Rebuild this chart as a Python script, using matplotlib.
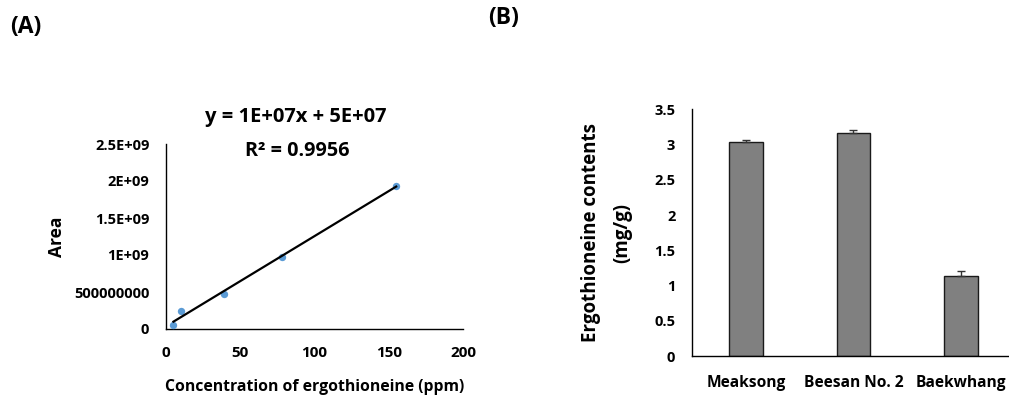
import numpy as np
import matplotlib
matplotlib.use("Agg")
import matplotlib.pyplot as plt

plt.rcParams['font.family'] = ['Open Sans', 'DejaVu Sans']

# Panel A data (calibration curve)
conc_ppm = [5, 10, 39, 78, 155]
area = [5.4e7, 2.43e8, 4.77e8, 9.73e8, 1.937e9]
a_yticks = [0, 5e8, 1e9, 1.5e9, 2e9, 2.5e9]
a_yticklabels = ['0', '500000000', '1E+09', '1.5E+09', '2E+09', '2.5E+09']
a_xticks = [0, 50, 100, 150, 200]
eq_text = "y = 1E+07x + 5E+07"
r2_text = "R² = 0.9956"

# Panel B data (contents)
cultivars = ['Meaksong', 'Beesan No. 2', 'Baekwhang']
contents = [3.04, 3.16, 1.13]
contents_err = [0.03, 0.04, 0.075]
b_yticks = [0, 0.5, 1, 1.5, 2, 2.5, 3, 3.5]
b_yticklabels = ['0', '0.5', '1', '1.5', '2', '2.5', '3', '3.5']

W, H = 1009, 405
fig = plt.figure(figsize=(W / 100, H / 100), dpi=100)

def fx(px):
    return px / W

def fy(px):
    return 1 - px / H

fw = 'bold'

# ---- Panel A ----
axA = fig.add_axes([fx(166), fy(329), fx(463) - fx(166), fy(144) - fy(329)])
axA.scatter(conc_ppm, area, s=28, color='#5b9bd5', zorder=3, linewidths=0)
coef = np.polyfit(conc_ppm, area, 1)
xs = np.array([min(conc_ppm), max(conc_ppm)])
axA.plot(xs, np.polyval(coef, xs), color='black', lw=1.6, zorder=4)
axA.set_xlim(0, 200)
axA.set_ylim(0, 2.5e9)
axA.set_xticks(a_xticks)
axA.set_xticklabels([str(t) for t in a_xticks], fontsize=11, fontweight=fw)
axA.set_yticks(a_yticks)
axA.set_yticklabels(a_yticklabels, fontsize=10.5, fontweight=fw)
axA.tick_params(axis='both', length=0)
axA.tick_params(axis='y', pad=12)
axA.tick_params(axis='x', pad=12)
for s in ['top', 'right']:
    axA.spines[s].set_visible(False)
for s in ['left', 'bottom']:
    axA.spines[s].set_color('black')
    axA.spines[s].set_linewidth(1.0)
axA.set_ylabel('Area', fontsize=12.5, fontweight=fw, labelpad=6)
axA.set_xlabel('Concentration of ergothioneine (ppm)', fontsize=11.3, fontweight=fw, labelpad=14)
fig.text(fx(296), fy(117), eq_text, ha='center', va='center', fontsize=14.5, fontweight=fw)
fig.text(fx(297), fy(151), r2_text, ha='center', va='center', fontsize=14.3, fontweight=fw)
fig.text(fx(10), fy(27), '(A)', ha='left', va='center', fontsize=16.5, fontweight=fw)

# ---- Panel B ----
axB = fig.add_axes([fx(692), fy(356), fx(1009) - fx(692), fy(109.3) - fy(356)])
xpos = np.arange(len(cultivars))
axB.bar(xpos, contents, width=0.31, color='#808080', edgecolor='#1a1a1a', linewidth=1.0,
        yerr=[np.zeros(len(contents_err)), contents_err], capsize=3,
        error_kw=dict(ecolor='#333333', elinewidth=1.0, capthick=1.0))
axB.set_xlim(-0.5, 2.445)
axB.set_ylim(0, 3.5)
axB.set_xticks(xpos)
axB.set_xticklabels(cultivars, fontsize=11.2, fontweight=fw)
axB.set_yticks(b_yticks)
axB.set_yticklabels(b_yticklabels, fontsize=10.5, fontweight=fw)
axB.tick_params(axis='both', length=0)
axB.tick_params(axis='y', pad=12)
axB.tick_params(axis='x', pad=14)
for s in ['top', 'right']:
    axB.spines[s].set_visible(False)
for s in ['left', 'bottom']:
    axB.spines[s].set_color('black')
    axB.spines[s].set_linewidth(1.0)
axB.set_ylabel('Ergothioneine contents\n(mg/g)', fontsize=13.5, fontweight=fw, labelpad=16, linespacing=1.75)
fig.text(fx(488), fy(18), '(B)', ha='left', va='center', fontsize=16.5, fontweight=fw)

fig.savefig('out.png', dpi=100)
